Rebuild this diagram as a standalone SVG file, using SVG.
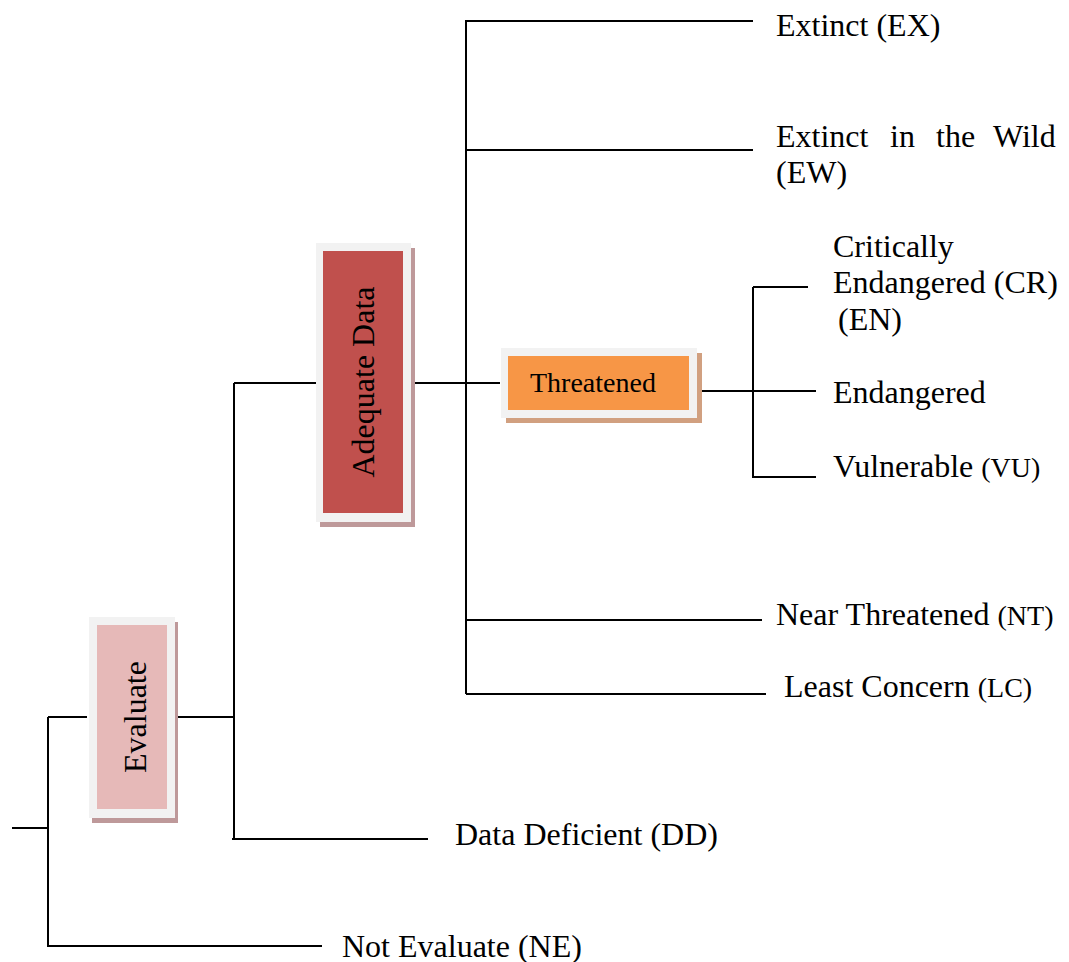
<svg xmlns="http://www.w3.org/2000/svg" width="1069" height="962" viewBox="0 0 1069 962">
<style>
.ln{stroke:#000;stroke-width:2;fill:none}
.t{font-family:"Liberation Serif","Times New Roman",serif;font-size:32px;fill:#000}
.s{font-size:28px}
.frame{fill:#F2F2F2}
</style>
<rect width="1069" height="962" fill="#fff"/>
<g id="connectors">
<path class="ln" d="M12 828H48M48 717V947M48 717H87M48 946H322M176 717H234M234 383V840M234 383H316M232 839H428M411 383H466M466 20V694M466 21H753M466 150H753M466 383H500M697 391H816M753 287V478M753 287H808M753 477H816M466 620H762M466 694H766"/>
</g>
<g id="node-evaluate">
<rect x="92" y="622" width="86" height="201" fill="#BE999A"/>
<rect class="frame" x="89" y="617" width="86" height="201"/>
<rect x="97" y="625" width="70" height="184" fill="#E6B9B8"/>
<text class="t" text-anchor="middle" transform="translate(146 717) rotate(-90)">Evaluate</text>
</g>
<g id="node-adequate">
<rect x="320" y="248" width="95" height="279" fill="#BE999A"/>
<rect class="frame" x="316" y="243" width="95" height="279"/>
<rect x="323" y="251" width="80" height="262" fill="#C0504D"/>
<text class="t" text-anchor="middle" transform="translate(374 382) rotate(-90)">Adequate Data</text>
</g>
<g id="node-threatened">
<rect x="506" y="353" width="196" height="70" fill="#D1A080"/>
<rect class="frame" x="501" y="348" width="196" height="70"/>
<rect x="508" y="356" width="181" height="54" fill="#F79646"/>
<text class="t s" x="530" y="392">Threatened</text>
</g>
<g id="node-ex"><text class="t" x="776" y="36">Extinct (EX)</text></g>
<g id="node-ew">
<text class="t" x="776" y="147">Extinct</text>
<text class="t" x="890" y="147">in</text>
<text class="t" x="936" y="147">the</text>
<text class="t" x="993" y="147">Wild</text>
<text class="t" x="776" y="183">(EW)</text>
</g>
<g id="node-cr">
<text class="t" x="833" y="257">Critically</text>
<text class="t" x="833" y="293">Endangered (CR)</text>
<text class="t" x="838" y="330">(EN)</text>
</g>
<g id="node-en"><text class="t" x="833" y="403">Endangered</text></g>
<g id="node-vu"><text class="t" x="833" y="477">Vulnerable <tspan class="s">(VU)</tspan></text></g>
<g id="node-nt"><text class="t" x="776" y="625">Near Threatened <tspan class="s">(NT)</tspan></text></g>
<g id="node-lc"><text class="t" x="784" y="697">Least Concern <tspan class="s">(LC)</tspan></text></g>
<g id="node-dd"><text class="t" x="455" y="845">Data Deficient (DD)</text></g>
<g id="node-ne"><text class="t" x="342" y="957">Not Evaluate (NE)</text></g>
</svg>
